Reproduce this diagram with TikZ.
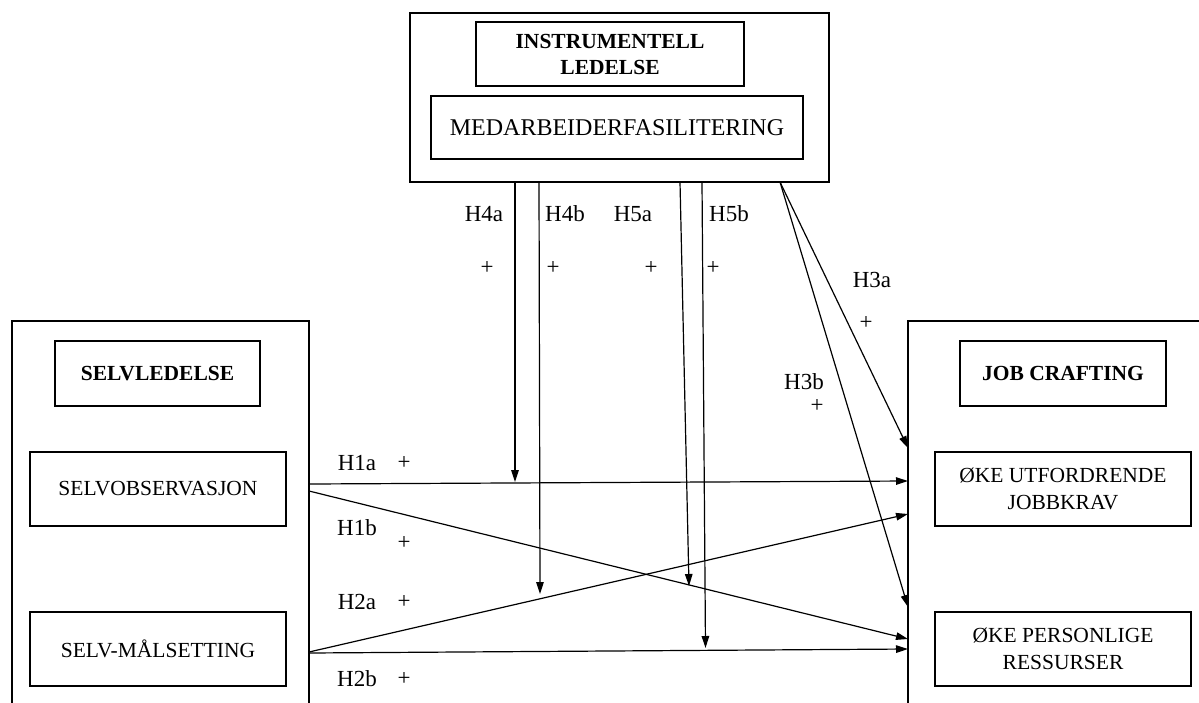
\documentclass[tikz,border=0pt]{standalone}
\usepackage{fontspec}
\setmainfont{Liberation Serif}
\usetikzlibrary{arrows.meta}

\begin{document}
\begin{tikzpicture}[
    x=1pt, y=-1pt,
    outerbox/.style={rectangle, draw, line width=1.3pt, inner sep=0pt},
    titlebox/.style={rectangle, draw, line width=1.5pt, inner sep=0pt, align=center, font=\bfseries\fontsize{21.5}{26}\selectfont},
    itembox/.style={rectangle, draw, line width=1.5pt, inner sep=0pt, align=center, font=\fontsize{21.5}{27}\selectfont},
    hyp/.style={inner sep=0pt, font=\fontsize{23}{26}\selectfont},
    arr/.style={-{Triangle[length=12pt,width=7.5pt]}, line width=1.2pt}
]
    \clip (0,0) rectangle (1199,702);

    \node[outerbox, minimum width=419pt, minimum height=169pt] (instr) at (619.5,97.5) {};
    \node[titlebox, minimum width=268pt, minimum height=64pt] (instrtitle) at (610,54) {INSTRUMENTELL\\LEDELSE};
    \node[itembox, minimum width=372pt, minimum height=63pt, font=\fontsize{24}{26}\selectfont] (fasil) at (617,127.5) {MEDARBEIDERFASILITERING};

    \node[outerbox, minimum width=297pt, minimum height=460pt] (selv) at (160.5,551) {};
    \node[titlebox, minimum width=205pt, minimum height=65pt] (selvtitle) at (157.5,373.5) {SELVLEDELSE};
    \node[itembox, minimum width=256pt, minimum height=74pt] (obs) at (158,489) {SELVOBSERVASJON};
    \node[itembox, minimum width=256pt, minimum height=74pt] (maal) at (158,649) {SELV-MÅLSETTING};

    \node[outerbox, minimum width=380pt, minimum height=460pt] (job) at (1098,551) {};
    \node[titlebox, minimum width=206pt, minimum height=65pt] (jobtitle) at (1063,373.5) {JOB CRAFTING};
    \node[itembox, minimum width=256pt, minimum height=74pt] (krav) at (1063,489) {ØKE UTFORDRENDE\\JOBBKRAV};
    \node[itembox, minimum width=256pt, minimum height=74pt] (ress) at (1063,649) {ØKE PERSONLIGE\\RESSURSER};

    \coordinate (obsA) at (309,484);
    \coordinate (obsB) at (309,491);
    \coordinate (maalA) at (309,652);
    \coordinate (maalB) at (309,653);
    \coordinate (kravA) at (908,481);
    \coordinate (kravB) at (908,514);
    \coordinate (kravC) at (908,448);
    \coordinate (ressA) at (908,639);
    \coordinate (ressB) at (908,649);
    \coordinate (ressC) at (908,607);
    \coordinate (fasilA) at (515,182);
    \coordinate (fasilB) at (539,182);
    \coordinate (fasilC) at (680,182);
    \coordinate (fasilD) at (702,182);
    \coordinate (fasilE) at (780,182);
    \coordinate (modA) at (515,482);
    \coordinate (modB) at (540,594);
    \coordinate (modC) at (689,586);
    \coordinate (modD) at (705.5,648);

    \draw[arr] (obsA) -- (kravA);
    \draw[arr] (obsB) -- (ressA);
    \draw[arr] (maalA) -- (kravB);
    \draw[arr] (maalB) -- (ressB);
    \draw[arr] (fasilE) -- (kravC);
    \draw[arr] (fasilE) -- (ressC);
    \draw[arr] (fasilA) -- (modA);
    \draw[arr] (fasilB) -- (modB);
    \draw[arr] (fasilC) -- (modC);
    \draw[arr] (fasilD) -- (modD);

    \node[hyp] (h4a) at (484,214) {H4a};
    \node[hyp] (p4a) at (487,268) {+};
    \node[hyp] (h4b) at (565,214) {H4b};
    \node[hyp] (p4b) at (553,268) {+};
    \node[hyp] (h5a) at (633,214) {H5a};
    \node[hyp] (p5a) at (651,268) {+};
    \node[hyp] (h5b) at (729,214) {H5b};
    \node[hyp] (p5b) at (713,268) {+};
    \node[hyp] (h3a) at (872,280) {H3a};
    \node[hyp] (p3a) at (866,323) {+};
    \node[hyp] (h3b) at (804,382) {H3b};
    \node[hyp] (p3b) at (817,406) {+};
    \node[hyp] (h1a) at (357,463) {H1a};
    \node[hyp] (p1a) at (404,463) {+};
    \node[hyp] (h1b) at (357,528) {H1b};
    \node[hyp] (p1b) at (404,543) {+};
    \node[hyp] (h2a) at (357,602) {H2a};
    \node[hyp] (p2a) at (404,602) {+};
    \node[hyp] (h2b) at (357,679) {H2b};
    \node[hyp] (p2b) at (404,679) {+};

\end{tikzpicture}
\end{document}
